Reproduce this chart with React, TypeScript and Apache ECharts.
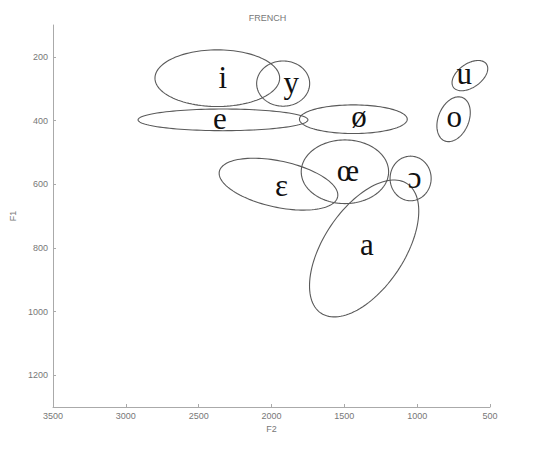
import React, { useEffect, useRef } from "react";
import * as echarts from "echarts";

// Vowel ellipses (French), values in Hz
const vowels = ["i", "y", "e", "ø", "u", "o", "œ", "ɛ", "ɔ", "a"];
const centerF2 = [2372, 1920, 2333, 1438, 638, 750, 1496, 1952, 1045, 1364];
const centerF1 = [267, 284, 398, 396, 259, 396, 561, 600, 582, 802];
// conjugate semi-axis vectors of each ellipse (F2, F1 components, Hz)
const axisUF2 = [428, 182, 583, 370, -114, -61, 300, -406, 141, -297];
const axisUF1 = [0, 0, 0, 0, -36, -68, 0, 40, 0, -203];
const axisVF2 = [0, 0, 0, 0, -45, -97, 0, 33, 0, -229];
const axisVF1 = [89, 71, 34, 45, 31, 18, 100, 71, 70, 71];
// label anchor points
const labelF2 = [2334, 1864, 2355, 1400, 677, 745, 1475, 1932, 1018, 1345];
const labelF1 = [264, 282, 395, 389, 251, 389, 556, 603, 578, 791];

const f1Ticks = [200, 400, 600, 800, 1000, 1200];

export default function App() {
  const ref = useRef<HTMLDivElement>(null);
  useEffect(() => {
    document.body.style.margin = "0";
    if (!ref.current) return;
    const chart = echarts.init(ref.current, undefined, { renderer: "svg" });
    const ellipseData = vowels.map((_, i) => [
      centerF2[i],
      centerF1[i],
      axisUF2[i],
      axisUF1[i],
      axisVF2[i],
      axisVF1[i],
    ]);
    const labelData = vowels.map((_, i) => [labelF2[i], labelF1[i]]);
    const tickFont = { fontSize: 9, color: "#777", fontFamily: "Arial, Liberation Sans, sans-serif" };
    chart.setOption({
      animation: false,
      backgroundColor: "#fff",
      title: {
        text: "FRENCH",
        left: "center",
        top: 8,
        textStyle: { fontSize: 9, fontWeight: "normal", color: "#777", fontFamily: "Arial, Liberation Sans, sans-serif" },
      },
      grid: { left: 50, right: 45, top: 25, bottom: 45 },
      xAxis: {
        type: "value",
        min: 500,
        max: 3500,
        interval: 500,
        inverse: true,
        name: "F2",
        nameLocation: "middle",
        nameGap: 11,
        nameTextStyle: tickFont,
        axisLine: { show: true, lineStyle: { color: "#aaa" } },
        axisTick: { show: true, inside: true, length: 3, lineStyle: { color: "#aaa" } },
        axisLabel: { ...tickFont, margin: 4, formatter: (v: number) => String(v) },
        splitLine: { show: false },
      },
      yAxis: {
        type: "value",
        min: 100,
        max: 1300,
        inverse: true,
        name: "F1",
        nameLocation: "middle",
        nameGap: 36,
        nameRotate: 90,
        nameTextStyle: tickFont,
        axisLine: { show: true, lineStyle: { color: "#aaa" } },
        axisTick: { show: true, inside: true, length: 3, customValues: f1Ticks, lineStyle: { color: "#aaa" } },
        axisLabel: { ...tickFont, margin: 5, customValues: f1Ticks, formatter: (v: number) => String(v) },
        splitLine: { show: false },
      },
      series: [
        {
          type: "custom",
          data: ellipseData,
          encode: { x: 0, y: 1 },
          renderItem: (params: any, api: any) => {
            const cx = api.value(0), cy = api.value(1);
            const ux = api.value(2), uy = api.value(3);
            const vx = api.value(4), vy = api.value(5);
            const pts: number[][] = [];
            const n = 120;
            for (let k = 0; k < n; k++) {
              const t = (2 * Math.PI * k) / n;
              pts.push(api.coord([cx + ux * Math.cos(t) + vx * Math.sin(t), cy + uy * Math.cos(t) + vy * Math.sin(t)]));
            }
            return {
              type: "polygon",
              shape: { points: pts },
              style: { fill: "none", stroke: "#5a5a5a", lineWidth: 1.1 },
            };
          },
        },
        {
          type: "custom",
          data: labelData,
          encode: { x: 0, y: 1 },
          renderItem: (params: any, api: any) => {
            const p = api.coord([api.value(0), api.value(1)]);
            return {
              type: "text",
              x: p[0],
              y: p[1],
              style: {
                text: vowels[params.dataIndex],
                fill: "#111",
                font: '31px "Liberation Serif", "DejaVu Serif", serif',
                align: "center",
                verticalAlign: "middle",
              },
            };
          },
        },
      ],
    });
    return () => chart.dispose();
  }, []);
  return <div ref={ref} style={{ width: 535, height: 452 }} />;
}
